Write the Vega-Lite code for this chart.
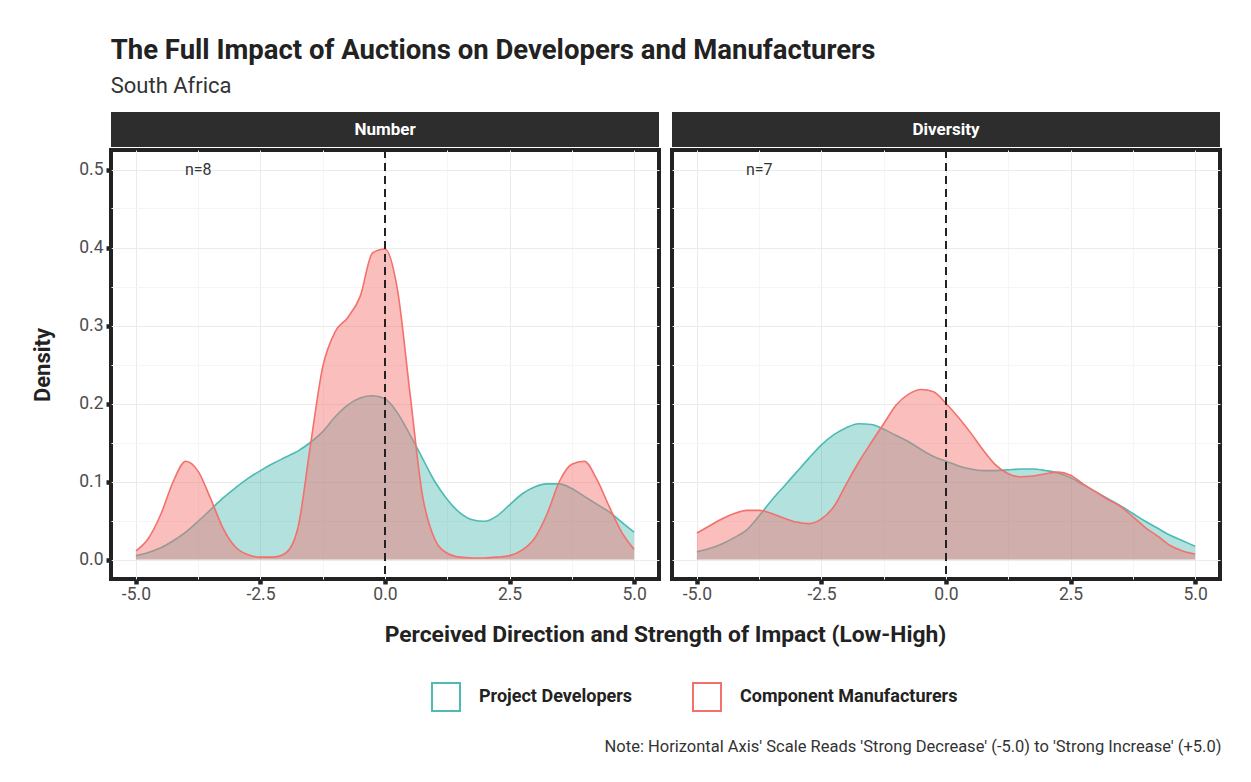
{
  "$schema": "https://vega.github.io/schema/vega-lite/v6.json",
  "background": "white",
  "padding": {"left": 29, "top": 36, "right": 20, "bottom": 10},
  "title": {
    "text": "The Full Impact of Auctions on Developers and Manufacturers",
    "subtitle": "South Africa",
    "anchor": "start",
    "dx": 81,
    "font": "Roboto",
    "fontSize": 27.5,
    "fontWeight": "bold",
    "color": "#222222",
    "subtitleFont": "Roboto",
    "subtitleFontSize": 22,
    "subtitleColor": "#333333",
    "subtitlePadding": 12,
    "offset": 15
  },
  "datasets": {
    "nd": [
      {"x": -5, "d": 0.005}, {"x": -4.75, "d": 0.009}, {"x": -4.5, "d": 0.015}, {"x": -4.25, "d": 0.024},
      {"x": -4, "d": 0.035}, {"x": -3.75, "d": 0.049}, {"x": -3.5, "d": 0.064}, {"x": -3.25, "d": 0.079},
      {"x": -3, "d": 0.092}, {"x": -2.75, "d": 0.104}, {"x": -2.5, "d": 0.114}, {"x": -2.25, "d": 0.123},
      {"x": -2, "d": 0.131}, {"x": -1.75, "d": 0.139}, {"x": -1.5, "d": 0.150}, {"x": -1.25, "d": 0.164},
      {"x": -1, "d": 0.183}, {"x": -0.75, "d": 0.198}, {"x": -0.5, "d": 0.207}, {"x": -0.25, "d": 0.210},
      {"x": 0, "d": 0.206}, {"x": 0.25, "d": 0.188}, {"x": 0.5, "d": 0.160}, {"x": 0.75, "d": 0.130},
      {"x": 1, "d": 0.100}, {"x": 1.25, "d": 0.077}, {"x": 1.5, "d": 0.060}, {"x": 1.75, "d": 0.051},
      {"x": 2, "d": 0.049}, {"x": 2.25, "d": 0.056}, {"x": 2.5, "d": 0.070}, {"x": 2.75, "d": 0.084},
      {"x": 3, "d": 0.093}, {"x": 3.25, "d": 0.097}, {"x": 3.5, "d": 0.097}, {"x": 3.75, "d": 0.091},
      {"x": 4, "d": 0.081}, {"x": 4.25, "d": 0.071}, {"x": 4.5, "d": 0.061}, {"x": 4.75, "d": 0.048},
      {"x": 5, "d": 0.035}
    ],
    "nm": [
      {"x": -5, "d": 0.011}, {"x": -4.75, "d": 0.027}, {"x": -4.5, "d": 0.058}, {"x": -4.25, "d": 0.100},
      {"x": -4, "d": 0.126}, {"x": -3.75, "d": 0.113}, {"x": -3.5, "d": 0.078}, {"x": -3.25, "d": 0.040},
      {"x": -3, "d": 0.016}, {"x": -2.75, "d": 0.006}, {"x": -2.5, "d": 0.003}, {"x": -2.25, "d": 0.003},
      {"x": -2, "d": 0.008}, {"x": -1.75, "d": 0.040}, {"x": -1.5, "d": 0.145}, {"x": -1.25, "d": 0.247},
      {"x": -1, "d": 0.292}, {"x": -0.75, "d": 0.310}, {"x": -0.5, "d": 0.337}, {"x": -0.25, "d": 0.393},
      {"x": 0, "d": 0.398}, {"x": 0.25, "d": 0.346}, {"x": 0.5, "d": 0.214}, {"x": 0.75, "d": 0.083},
      {"x": 1, "d": 0.026}, {"x": 1.25, "d": 0.008}, {"x": 1.5, "d": 0.003}, {"x": 1.75, "d": 0.002},
      {"x": 2, "d": 0.002}, {"x": 2.25, "d": 0.003}, {"x": 2.5, "d": 0.005}, {"x": 2.75, "d": 0.012},
      {"x": 3, "d": 0.027}, {"x": 3.25, "d": 0.058}, {"x": 3.5, "d": 0.100}, {"x": 3.75, "d": 0.122},
      {"x": 4, "d": 0.126}, {"x": 4.25, "d": 0.103}, {"x": 4.5, "d": 0.068}, {"x": 4.75, "d": 0.035},
      {"x": 5, "d": 0.013}
    ],
    "dd": [
      {"x": -5, "d": 0.010}, {"x": -4.75, "d": 0.014}, {"x": -4.5, "d": 0.020}, {"x": -4.25, "d": 0.028},
      {"x": -4, "d": 0.038}, {"x": -3.75, "d": 0.056}, {"x": -3.5, "d": 0.076}, {"x": -3.25, "d": 0.094},
      {"x": -3, "d": 0.112}, {"x": -2.75, "d": 0.130}, {"x": -2.5, "d": 0.147}, {"x": -2.25, "d": 0.160},
      {"x": -2, "d": 0.169}, {"x": -1.75, "d": 0.174}, {"x": -1.5, "d": 0.173}, {"x": -1.25, "d": 0.167},
      {"x": -1, "d": 0.159}, {"x": -0.75, "d": 0.151}, {"x": -0.5, "d": 0.141}, {"x": -0.25, "d": 0.132},
      {"x": 0, "d": 0.126}, {"x": 0.25, "d": 0.120}, {"x": 0.5, "d": 0.116}, {"x": 0.75, "d": 0.114},
      {"x": 1, "d": 0.114}, {"x": 1.25, "d": 0.115}, {"x": 1.5, "d": 0.116}, {"x": 1.75, "d": 0.116},
      {"x": 2, "d": 0.114}, {"x": 2.25, "d": 0.111}, {"x": 2.5, "d": 0.105}, {"x": 2.75, "d": 0.096},
      {"x": 3, "d": 0.087}, {"x": 3.25, "d": 0.078}, {"x": 3.5, "d": 0.069}, {"x": 3.75, "d": 0.059},
      {"x": 4, "d": 0.049}, {"x": 4.25, "d": 0.040}, {"x": 4.5, "d": 0.031}, {"x": 4.75, "d": 0.024},
      {"x": 5, "d": 0.017}
    ],
    "dm": [
      {"x": -5, "d": 0.034}, {"x": -4.75, "d": 0.043}, {"x": -4.5, "d": 0.052}, {"x": -4.25, "d": 0.059},
      {"x": -4, "d": 0.063}, {"x": -3.75, "d": 0.063}, {"x": -3.5, "d": 0.059}, {"x": -3.25, "d": 0.053},
      {"x": -3, "d": 0.048}, {"x": -2.75, "d": 0.046}, {"x": -2.5, "d": 0.052}, {"x": -2.25, "d": 0.068},
      {"x": -2, "d": 0.097}, {"x": -1.75, "d": 0.125}, {"x": -1.5, "d": 0.150}, {"x": -1.25, "d": 0.174},
      {"x": -1, "d": 0.198}, {"x": -0.75, "d": 0.212}, {"x": -0.5, "d": 0.218}, {"x": -0.25, "d": 0.215},
      {"x": 0, "d": 0.200}, {"x": 0.25, "d": 0.182}, {"x": 0.5, "d": 0.162}, {"x": 0.75, "d": 0.140},
      {"x": 1, "d": 0.121}, {"x": 1.25, "d": 0.110}, {"x": 1.5, "d": 0.106}, {"x": 1.75, "d": 0.107},
      {"x": 2, "d": 0.110}, {"x": 2.25, "d": 0.112}, {"x": 2.5, "d": 0.108}, {"x": 2.75, "d": 0.097},
      {"x": 3, "d": 0.087}, {"x": 3.25, "d": 0.077}, {"x": 3.5, "d": 0.068}, {"x": 3.75, "d": 0.055},
      {"x": 4, "d": 0.041}, {"x": 4.25, "d": 0.030}, {"x": 4.5, "d": 0.018}, {"x": 4.75, "d": 0.011},
      {"x": 5, "d": 0.007}
    ],
    "one": [{}]
  },
  "config": {
    "font": "Roboto",
    "view": {"stroke": "#222222", "strokeWidth": 4},
    "axis": {
      "labelFont": "Roboto",
      "labelFontSize": 17.5,
      "labelColor": "#4d4d4d",
      "tickColor": "#222222",
      "tickWidth": 4.5,
      "tickSize": 5,
      "domain": false,
      "gridColor": "#ececec",
      "gridWidth": 1,
      "titleFont": "Roboto",
      "titleFontSize": 22,
      "titleFontWeight": "bold",
      "titleColor": "#222222"
    },
    "legend": {
      "labelFont": "Roboto",
      "labelFontSize": 18,
      "labelFontWeight": "bold",
      "labelColor": "#222222",
      "labelLimit": 400
    }
  },
  "spacing": 0,
  "vconcat": [
    {
      "spacing": 13,
      "hconcat": [
        {
          "width": 548,
          "height": 35,
          "data": {"name": "one"},
          "view": {"fill": "#2d2d2d", "stroke": null},
          "mark": {"type": "text", "color": "white", "fontSize": 17, "fontWeight": "bold", "font": "Roboto"},
          "encoding": {"text": {"value": "Number"}}
        },
        {
          "width": 548,
          "height": 35,
          "data": {"name": "one"},
          "view": {"fill": "#2d2d2d", "stroke": null},
          "mark": {"type": "text", "color": "white", "fontSize": 17, "fontWeight": "bold", "font": "Roboto"},
          "encoding": {"text": {"value": "Diversity"}}
        }
      ]
    },
    {
      "spacing": 13,
      "bounds": "flush",
      "hconcat": [
        {
          "width": 548,
          "height": 429,
          "layer": [
            {
              "data": {"name": "nd"},
              "mark": {"type": "area", "interpolate": "monotone", "fill": "#35b0a8", "fillOpacity": 0.38},
              "encoding": {
                "x": {
                  "field": "x", "type": "quantitative",
                  "scale": {"domain": [-5.5, 5.5], "nice": false, "zero": false},
                  "axis": {
                    "values": [-5, -3.75, -2.5, -1.25, 0, 1.25, 2.5, 3.75, 5],
                    "labelExpr": "abs(datum.value % 2.5) < 0.001 ? replace(format(datum.value, '.1f'), '\u2212', '-') : ''",
                    "tickOpacity": {"condition": {"test": "abs(datum.value % 2.5) < 0.001", "value": 1}, "value": 0},
                    "gridColor": {"condition": {"test": "abs(datum.value % 2.5) < 0.001", "value": "#ebebeb"}, "value": "#f5f5f5"},
                    "labelPadding": 1,
                    "title": "Perceived Direction and Strength of Impact (Low-High)",
                    "titleFontSize": 22.8,
                    "titleX": 554,
                    "titleY": 55,
                    "titleBaseline": "middle",
                    "titleAlign": "center"
                  }
                },
                "y": {
                  "field": "d", "type": "quantitative",
                  "scale": {"domain": [-0.025, 0.525], "nice": false, "zero": false},
                  "axis": {
                    "values": [0, 0.05, 0.1, 0.15, 0.2, 0.25, 0.3, 0.35, 0.4, 0.45, 0.5],
                    "labelExpr": "abs(datum.value * 10 - round(datum.value * 10)) < 0.01 ? format(datum.value, '.1f') : ''",
                    "tickOpacity": {"condition": {"test": "abs(datum.value * 10 - round(datum.value * 10)) < 0.01", "value": 1}, "value": 0},
                    "gridColor": {"condition": {"test": "abs(datum.value * 10 - round(datum.value * 10)) < 0.01", "value": "#ebebeb"}, "value": "#f5f5f5"},
                    "labelPadding": 3,
                    "title": "Density",
                    "titlePadding": 24
                  }
                },
                "y2": {"datum": 0}
              }
            },
            {
              "data": {"name": "nd"},
              "mark": {"type": "line", "interpolate": "monotone", "strokeWidth": 1.6},
              "encoding": {
                "x": {"field": "x", "type": "quantitative"},
                "y": {"field": "d", "type": "quantitative"},
                "color": {
                  "datum": "Project Developers",
                  "scale": {"domain": ["Project Developers", "Component Manufacturers"], "range": ["#4dbab4", "#f3706c"]},
                  "legend": {
                    "title": null,
                    "orient": "none",
                    "direction": "horizontal",
                    "legendX": 320,
                    "legendY": 570,
                    "symbolType": "square",
                    "symbolSize": 784,
                    "symbolStrokeWidth": 2,
                    "symbolFillColor": "white",
                    "labelOffset": 18,
                    "labelLimit": 400,
                    "columnPadding": 56
                  }
                }
              }
            },
            {
              "data": {"name": "nm"},
              "mark": {"type": "area", "interpolate": "monotone", "fill": "#f3706c", "fillOpacity": 0.45},
              "encoding": {
                "x": {"field": "x", "type": "quantitative"},
                "y": {"field": "d", "type": "quantitative"},
                "y2": {"datum": 0}
              }
            },
            {
              "data": {"name": "nm"},
              "mark": {"type": "line", "interpolate": "monotone", "strokeWidth": 1.6},
              "encoding": {
                "x": {"field": "x", "type": "quantitative"},
                "y": {"field": "d", "type": "quantitative"},
                "color": {"datum": "Component Manufacturers"}
              }
            },
            {
              "data": {"name": "one"},
              "mark": {"type": "rule", "strokeDash": [8, 5], "strokeWidth": 2, "color": "#222222"},
              "encoding": {"x": {"datum": 0}}
            },
            {
              "data": {"name": "one"},
              "mark": {"type": "text", "fontSize": 16, "color": "#333333", "font": "Roboto"},
              "encoding": {"x": {"datum": -3.75}, "y": {"datum": 0.5}, "text": {"value": "n=8"}}
            }
          ]
        },
        {
          "width": 548,
          "height": 429,
          "layer": [
            {
              "data": {"name": "dd"},
              "mark": {"type": "area", "interpolate": "monotone", "fill": "#35b0a8", "fillOpacity": 0.38},
              "encoding": {
                "x": {
                  "field": "x", "type": "quantitative",
                  "scale": {"domain": [-5.5, 5.5], "nice": false, "zero": false},
                  "axis": {
                    "values": [-5, -3.75, -2.5, -1.25, 0, 1.25, 2.5, 3.75, 5],
                    "labelExpr": "abs(datum.value % 2.5) < 0.001 ? replace(format(datum.value, '.1f'), '\u2212', '-') : ''",
                    "tickOpacity": {"condition": {"test": "abs(datum.value % 2.5) < 0.001", "value": 1}, "value": 0},
                    "gridColor": {"condition": {"test": "abs(datum.value % 2.5) < 0.001", "value": "#ebebeb"}, "value": "#f5f5f5"},
                    "labelPadding": 1,
                    "title": "Note: Horizontal Axis' Scale Reads 'Strong Decrease' (-5.0) to 'Strong Increase' (+5.0)",
                    "titleX": 549,
                    "titleY": 167,
                    "titleAlign": "right",
                    "titleBaseline": "middle",
                    "titleFontWeight": "normal",
                    "titleFontSize": 16.5,
                    "titleColor": "#333333"
                  }
                },
                "y": {
                  "field": "d", "type": "quantitative",
                  "scale": {"domain": [-0.025, 0.525], "nice": false, "zero": false},
                  "axis": {
                    "values": [0, 0.05, 0.1, 0.15, 0.2, 0.25, 0.3, 0.35, 0.4, 0.45, 0.5],
                    "gridColor": {"condition": {"test": "abs(datum.value * 10 - round(datum.value * 10)) < 0.01", "value": "#ebebeb"}, "value": "#f5f5f5"},
                    "labels": false,
                    "ticks": false,
                    "title": null
                  }
                },
                "y2": {"datum": 0}
              }
            },
            {
              "data": {"name": "dd"},
              "mark": {"type": "line", "interpolate": "monotone", "strokeWidth": 1.6},
              "encoding": {
                "x": {"field": "x", "type": "quantitative"},
                "y": {"field": "d", "type": "quantitative"},
                "color": {"datum": "Project Developers"}
              }
            },
            {
              "data": {"name": "dm"},
              "mark": {"type": "area", "interpolate": "monotone", "fill": "#f3706c", "fillOpacity": 0.45},
              "encoding": {
                "x": {"field": "x", "type": "quantitative"},
                "y": {"field": "d", "type": "quantitative"},
                "y2": {"datum": 0}
              }
            },
            {
              "data": {"name": "dm"},
              "mark": {"type": "line", "interpolate": "monotone", "strokeWidth": 1.6},
              "encoding": {
                "x": {"field": "x", "type": "quantitative"},
                "y": {"field": "d", "type": "quantitative"},
                "color": {"datum": "Component Manufacturers"}
              }
            },
            {
              "data": {"name": "one"},
              "mark": {"type": "rule", "strokeDash": [8, 5], "strokeWidth": 2, "color": "#222222"},
              "encoding": {"x": {"datum": 0}}
            },
            {
              "data": {"name": "one"},
              "mark": {"type": "text", "fontSize": 16, "color": "#333333", "font": "Roboto"},
              "encoding": {"x": {"datum": -3.75}, "y": {"datum": 0.5}, "text": {"value": "n=7"}}
            }
          ]
        }
      ]
    }
  ]
}
